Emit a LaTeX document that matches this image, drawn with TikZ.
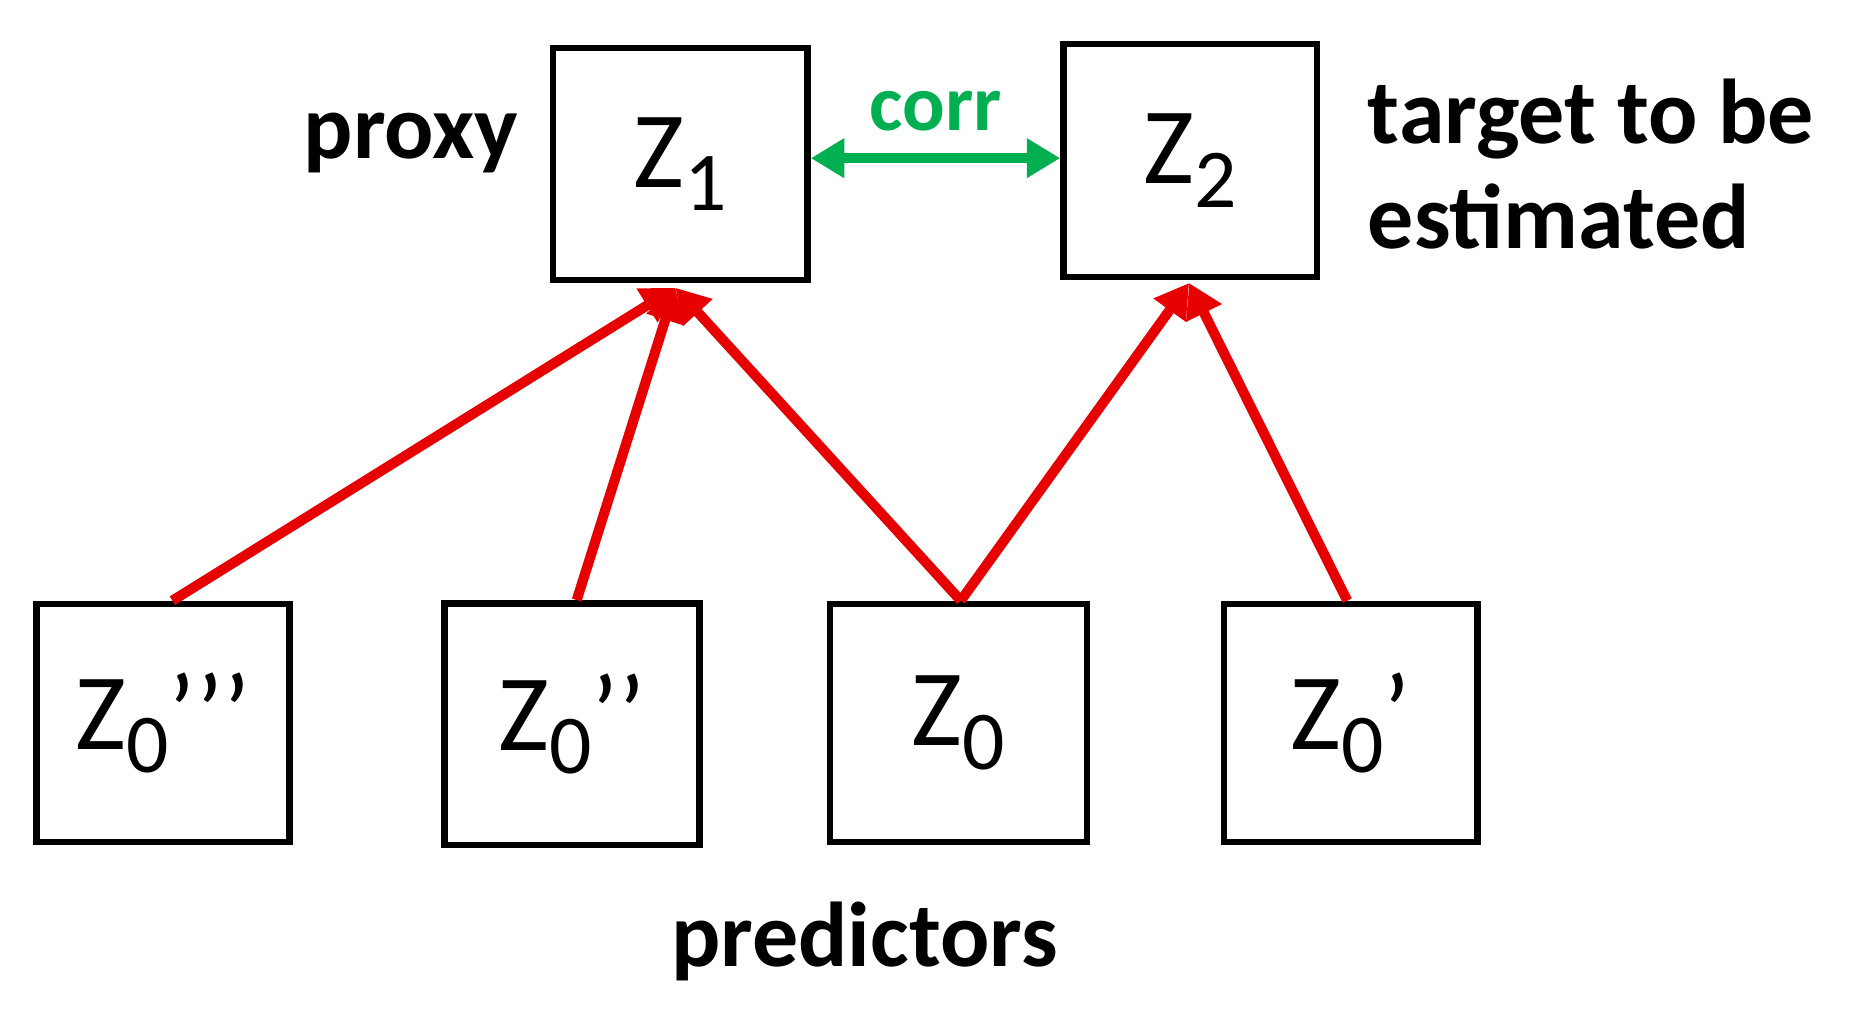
\documentclass[tikz,border=0pt]{standalone}
\usepackage{fontspec}
\setmainfont{Carlito}
\usetikzlibrary{positioning, arrows.meta}
\definecolor{corrgreen}{RGB}{0,176,80}
\definecolor{linkred}{RGB}{230,0,0}
\newcommand{\zsub}[1]{\raisebox{-0.45ex}{\fontsize{20}{20}\selectfont #1}}
\begin{document}
\begin{tikzpicture}[x=0.01cm, y=-0.01cm,
		varbox/.style={draw, line width=1.6pt, font=\fontsize{26}{28}\selectfont},
		tag/.style={font=\bfseries\fontsize{22}{25}\selectfont},
		link/.style={linkred, line width=2.4pt, -{Triangle[length=8pt,width=9pt]}}]

	\useasboundingbox (0,0) rectangle (1560,863);

	% Boxes
	\node[varbox, minimum width=2.14cm, minimum height=1.95cm] (z1) at (572,138) {Z\zsub{1}};
	\node[varbox, minimum width=2.13cm, minimum height=1.96cm] (z2) at (1001,135) {Z\zsub{2}};
	\node[varbox, minimum width=2.13cm, minimum height=2cm] (a) at (137,608) {Z\zsub{0}’’’};
	\node[varbox, minimum width=2.14cm, minimum height=2.03cm] (b) at (481,609) {Z\zsub{0}’’};
	\node[varbox, minimum width=2.16cm, minimum height=2cm] (c) at (806,608) {Z\zsub{0}};
	\node[varbox, minimum width=2.13cm, minimum height=2cm] (d) at (1136,608) {Z\zsub{0}’};

	% Links
	\coordinate (t1) at (568,242);
	\coordinate (t2) at (1000,238);
	\draw[link] ([xshift=0.08cm]a.north) -- (t1);
	\draw[link] ([xshift=0.04cm]b.north) -- (t1);
	\draw[link] ([xshift=0.02cm]c.north) -- (t1);
	\draw[link] ([xshift=0.02cm]c.north) -- (t2);
	\draw[link] ([xshift=-0.03cm]d.north) -- (t2);

	% corr
	\draw[corrgreen, line width=2.4pt, {Triangle[length=8pt,width=9pt]}-{Triangle[length=8pt,width=9pt]}] (z1.east |- 0,133) -- (z2.west |- 0,133) node[midway, above=2pt, font=\bfseries\fontsize{19}{21}\selectfont, text=corrgreen] (corr) {corr};

	% Labels
	\node[tag, left=4pt of z1.west, yshift=0.18cm] (proxy) {proxy};
	\node[tag, anchor=west, align=left] (target) at (1138,138) {target to be\\estimated};
	\node[tag] (pred) at (727,792) {predictors};
\end{tikzpicture}
\end{document}
